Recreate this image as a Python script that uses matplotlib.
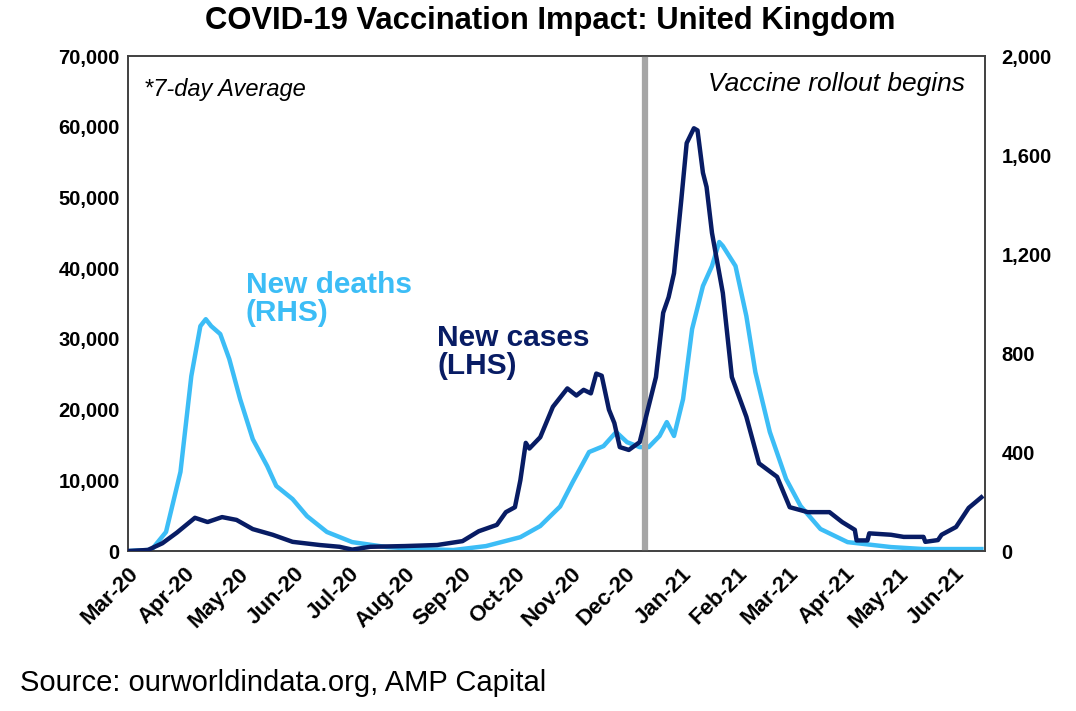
import matplotlib
matplotlib.use('Agg')
import matplotlib.pyplot as plt
import matplotlib.dates as mdates
from matplotlib.ticker import FuncFormatter, MultipleLocator
import pandas as pd

plt.rcParams['font.family'] = ['Liberation Sans', 'DejaVu Sans']

NAVY = '#081C64'
SKY = '#3CBDF6'

# new cases, 7-day average (left axis)
case_dates = ['2020-03-01', '2020-03-12', '2020-03-20', '2020-03-28', '2020-04-07', '2020-04-14',
              '2020-04-22', '2020-04-30', '2020-05-09', '2020-05-20', '2020-05-31', '2020-06-15',
              '2020-06-26', '2020-07-03', '2020-07-13', '2020-08-01', '2020-08-19', '2020-09-02',
              '2020-09-11', '2020-09-21', '2020-09-26', '2020-10-01', '2020-10-04', '2020-10-07',
              '2020-10-09', '2020-10-15', '2020-10-22', '2020-10-30', '2020-11-04', '2020-11-08',
              '2020-11-12', '2020-11-15', '2020-11-18', '2020-11-22', '2020-11-25', '2020-11-28',
              '2020-12-03', '2020-12-09', '2020-12-13', '2020-12-18', '2020-12-22', '2020-12-25',
              '2020-12-28', '2021-01-01', '2021-01-04', '2021-01-08', '2021-01-10', '2021-01-13',
              '2021-01-15', '2021-01-18', '2021-01-24', '2021-01-29', '2021-02-06', '2021-02-13',
              '2021-02-23', '2021-03-02', '2021-03-12', '2021-03-24', '2021-03-31', '2021-04-07',
              '2021-04-08', '2021-04-14', '2021-04-15', '2021-04-27', '2021-05-04', '2021-05-15',
              '2021-05-16', '2021-05-23', '2021-05-25', '2021-06-02', '2021-06-09', '2021-06-16']
new_cases = [0, 150, 1100, 2600, 4700, 4100,
             4800, 4400, 3100, 2300, 1300, 850,
             600, 200, 600, 700, 850, 1400,
             2800, 3700, 5500, 6200, 10000, 15300,
             14500, 16100, 20400, 23000, 22000, 22800,
             22300, 25100, 24800, 20000, 18100, 14700,
             14300, 15400, 19500, 24600, 33700, 35900,
             39300, 49600, 57700, 59800, 59500, 53500,
             51500, 45000, 36500, 24600, 19000, 12400,
             10500, 6200, 5500, 5500, 4100, 3000,
             1500, 1500, 2500, 2300, 2000, 2000,
             1300, 1550, 2300, 3400, 6100, 7600]

# new deaths, 7-day average (right axis)
death_dates = ['2020-03-01', '2020-03-14', '2020-03-22', '2020-03-30', '2020-04-05', '2020-04-10',
               '2020-04-13', '2020-04-16', '2020-04-21', '2020-04-26', '2020-05-02', '2020-05-09',
               '2020-05-17', '2020-05-22', '2020-05-31', '2020-06-08', '2020-06-19', '2020-07-03',
               '2020-07-22', '2020-08-09', '2020-08-28', '2020-09-15', '2020-10-04', '2020-10-15',
               '2020-10-26', '2020-11-02', '2020-11-11', '2020-11-19', '2020-11-26', '2020-12-02',
               '2020-12-09', '2020-12-14', '2020-12-20', '2020-12-24', '2020-12-28', '2021-01-02',
               '2021-01-07', '2021-01-13', '2021-01-18', '2021-01-22', '2021-01-24', '2021-01-31',
               '2021-02-06', '2021-02-11', '2021-02-19', '2021-02-28', '2021-03-08', '2021-03-19',
               '2021-04-03', '2021-04-27', '2021-05-15', '2021-06-16']
new_deaths = [0, 5, 77, 320, 707, 909,
              937, 909, 877, 776, 614, 452,
              343, 263, 210, 141, 77, 36,
              16, 8, 4, 20, 56, 101,
              180, 279, 400, 424, 481, 440,
              420, 420, 465, 521, 465, 614,
              897, 1071, 1152, 1249, 1233, 1152,
              950, 723, 481, 291, 182, 89,
              36, 16, 8, 8]

x_ticks = pd.date_range('2020-03-01', '2021-06-01', freq='MS')

fig = plt.figure(figsize=(10.76, 7.11), dpi=100)
ax1 = fig.add_axes([0.119, 0.225, 0.7964, 0.696])
ax2 = ax1.twinx()

ax1.axvline(pd.Timestamp('2020-12-12'), color='#A6A6A6', lw=4.5, zorder=1)
ax2.plot(pd.to_datetime(death_dates), new_deaths, color=SKY, lw=3.2, zorder=2)
ax1.plot(pd.to_datetime(case_dates), new_cases, color=NAVY, lw=3.2, zorder=3)
ax1.set_zorder(ax2.get_zorder() + 1)
ax1.patch.set_visible(False)

ax1.set_xlim(pd.Timestamp('2020-03-01'), pd.Timestamp('2021-06-18'))
ax1.set_ylim(0, 70000)
ax2.set_ylim(0, 2000)
ax1.yaxis.set_major_locator(MultipleLocator(10000))
ax2.yaxis.set_major_locator(MultipleLocator(400))
ax1.yaxis.set_major_formatter(FuncFormatter(lambda v, p: f'{int(v):,}'))
ax2.yaxis.set_major_formatter(FuncFormatter(lambda v, p: f'{int(v):,}'))

for ax in (ax1, ax2):
    ax.tick_params(length=0)
    ax.tick_params(axis='y', labelsize=14.5)
    for sp in ax.spines.values():
        sp.set_color('#404040')
        sp.set_linewidth(1.2)
ax1.tick_params(axis='y', pad=6)
ax2.tick_params(axis='y', pad=12)
ax1.tick_params(axis='x', pad=9, labelsize=16)

ax1.set_xticks(x_ticks)
ax1.xaxis.set_major_formatter(mdates.DateFormatter('%b-%y'))
for lbl in ax1.get_xticklabels():
    lbl.set_rotation(45)
    lbl.set_ha('right')
    lbl.set_rotation_mode('anchor')
    lbl.set_fontweight('bold')
for ax in (ax1, ax2):
    for lbl in ax.get_yticklabels():
        lbl.set_fontweight('bold')

fig.text(0.511, 0.97, 'COVID-19 Vaccination Impact: United Kingdom', ha='center', va='center',
         fontsize=22.3, fontweight='bold')
ax1.text(pd.Timestamp('2020-03-10'), 65300, '*7-day Average', style='italic', fontsize=17, va='center')
ax1.text(pd.Timestamp('2021-06-07'), 66000, 'Vaccine rollout begins', style='italic', fontsize=19,
         ha='right', va='center')
ax1.text(pd.Timestamp('2020-05-05'), 35700, 'New deaths\n(RHS)', color=SKY, fontsize=21.5,
         fontweight='bold', va='center', linespacing=1.0)
ax1.text(pd.Timestamp('2020-08-19'), 28200, 'New cases\n(LHS)', color=NAVY, fontsize=21.5,
         fontweight='bold', va='center', linespacing=1.0)
fig.text(0.019, 0.04, 'Source: ourworldindata.org, AMP Capital', fontsize=21, va='center')

fig.savefig('out.png', dpi=100)
